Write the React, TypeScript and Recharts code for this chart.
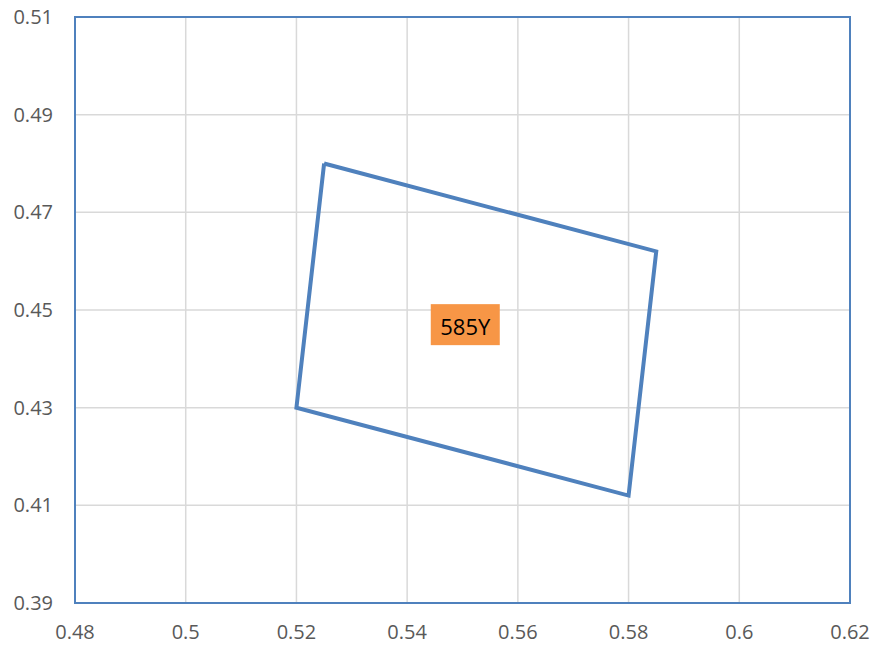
import { LineChart, Line, XAxis, YAxis, CartesianGrid, ReferenceArea, ReferenceDot } from "recharts";

// polygon corners, in drawing order (closed back to the first)
const xValues = [0.525, 0.585, 0.58, 0.52, 0.525];
const yValues = [0.48, 0.462, 0.412, 0.43, 0.48];

const xTicks = [0.48, 0.5, 0.52, 0.54, 0.56, 0.58, 0.6, 0.62];
const yTicks = [0.39, 0.41, 0.43, 0.45, 0.47, 0.49, 0.51];

const labelText = "585Y";
const labelX = 0.5505;
const labelY = 0.447;

const BLUE = "#4F81BD";
const ORANGE = "#F79646";
const FONT = "'Open Sans', 'Liberation Sans', Arial, sans-serif";

const data = xValues.map((x, i) => ({ x, y: yValues[i] }));

function LabelBox(props: any) {
  const { cx, cy } = props;
  const w = 69;
  const h = 41;
  return (
    <g>
      <rect x={cx - w / 2} y={cy - h / 2} width={w} height={h} fill={ORANGE} />
      <text x={cx} y={cy + 1} textAnchor="middle" dominantBaseline="central" style={{ fontSize: 22, fontFamily: FONT }} fill="#000">
        {labelText}
      </text>
    </g>
  );
}

const tickStyle = { fill: "#595959", fontSize: 20, fontFamily: FONT };

export default function App() {
  return (
    <div style={{ position: "absolute", left: 0, top: 0, width: 875, height: 650 }}>
      <LineChart width={875} height={650} data={data} margin={{ top: 17, right: 25, bottom: 0, left: 0 }}>
        <CartesianGrid stroke="#d9d9d9" strokeWidth={1.5} />
        <XAxis
          type="number"
          dataKey="x"
          domain={[0.48, 0.62]}
          ticks={xTicks}
          tickFormatter={(v: number) => String(+v.toFixed(2))}
          axisLine={false}
          tickLine={false}
          tickSize={0}
          tickMargin={22}
          height={47}
          tick={tickStyle}
          allowDataOverflow
        />
        <YAxis
          type="number"
          dataKey="y"
          domain={[0.39, 0.51]}
          ticks={yTicks}
          tickFormatter={(v: number) => String(+v.toFixed(2))}
          axisLine={false}
          tickLine={false}
          tickSize={0}
          tickMargin={22}
          width={75}
          tick={tickStyle}
          allowDataOverflow
        />
        <ReferenceArea x1={0.48} x2={0.62} y1={0.39} y2={0.51} fill="none" stroke={BLUE} strokeWidth={2} />
        <Line
          dataKey="y"
          type="linear"
          stroke={BLUE}
          strokeWidth={4}
          dot={false}
          activeDot={false}
          isAnimationActive={false}
        />
        <ReferenceDot x={labelX} y={labelY} shape={LabelBox} />
      </LineChart>
    </div>
  );
}
